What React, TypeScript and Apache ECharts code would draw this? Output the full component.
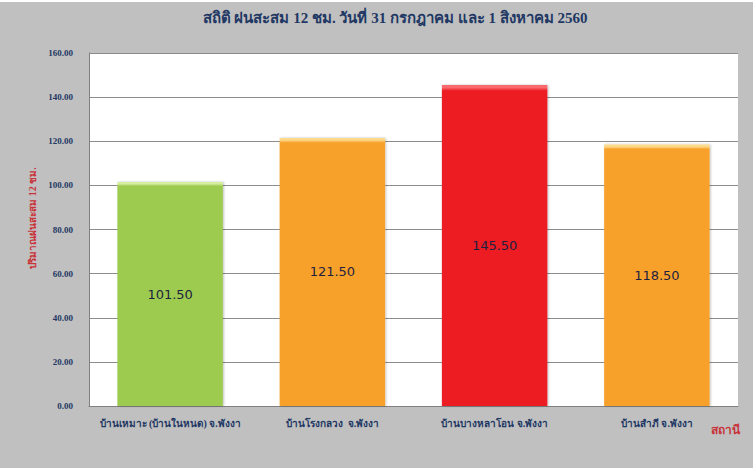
import React, { useEffect, useRef } from "react";
import * as echarts from "echarts";

const titleText = "สถิติ ฝนสะสม 12 ชม. วันที่ 31 กรกฎาคม และ 1 สิงหาคม 2560";
const yAxisTitle = "ปริมาณฝนสะสม 12 ชม.";
const xAxisTitle = "สถานี";
const stations = [
  "บ้านเหมาะ (บ้านในหนด) จ.พังงา",
  "บ้านโรงกลวง  จ.พังงา",
  "บ้านบางหลาโอน จ.พังงา",
  "บ้านสำภี จ.พังงา",
];
const rainfall = [101.5, 121.5, 145.5, 118.5];
const barColors = ["#9dcb4f", "#f8a12b", "#ed1c24", "#f8a12b"];
const barHighlights = ["#d6eea0", "#fdd98a", "#f86a6e", "#fdd98a"];

export default function App() {
  const ref = useRef<HTMLDivElement>(null);
  useEffect(() => {
    document.body.style.margin = "0";
    if (!ref.current) return;
    const chart = echarts.init(ref.current, null, { renderer: "svg" });
    const data = rainfall.map((v, i) => ({
      value: v,
      itemStyle: {
        color: new echarts.graphic.LinearGradient(0, 0, 0, 1, [
          { offset: 0, color: barHighlights[i] },
          { offset: 0.008, color: barHighlights[i] },
          { offset: 0.018, color: barColors[i] },
          { offset: 1, color: barColors[i] },
        ]),
        shadowColor: "rgba(0,0,0,0.25)",
        shadowBlur: 2,
        shadowOffsetX: 1,
      },
    }));
    chart.setOption({
      animation: false,
      backgroundColor: "#ffffff",
      graphic: [
        { type: "rect", shape: { x: 0, y: 2, width: 753, height: 466 }, style: { fill: "#c0c0c0" }, z: -10 },
        {
          type: "text",
          x: 395,
          y: 18,
          style: {
            text: titleText,
            fill: "#1f3864",
            font: "bold 15px 'Liberation Serif', 'Noto Sans', serif",
            align: "center",
            verticalAlign: "middle",
          },
        },
        {
          type: "text",
          x: 32,
          y: 218,
          rotation: Math.PI / 2,
          style: {
            text: yAxisTitle,
            fill: "#c8333a",
            font: "bold 10px 'Liberation Serif', 'Noto Sans', sans-serif",
            align: "center",
            verticalAlign: "middle",
          },
        },
        {
          type: "text",
          x: 725,
          y: 430,
          style: {
            text: xAxisTitle,
            fill: "#c8333a",
            font: "bold 12px 'Liberation Serif', 'Noto Sans', sans-serif",
            align: "center",
            verticalAlign: "middle",
          },
        },
      ],
      grid: { left: 89, right: 15, top: 53, bottom: 62, backgroundColor: "#ffffff", show: true, borderWidth: 0 },
      xAxis: {
        type: "category",
        data: stations,
        axisLine: { lineStyle: { color: "#808080", width: 1 } },
        axisTick: { show: false },
        axisLabel: {
          color: "#1f3864",
          fontSize: 10,
          fontWeight: "bold",
          margin: 12,
          interval: 0,
          fontFamily: "'Liberation Serif', 'Noto Sans', serif",
        },
      },
      yAxis: {
        type: "value",
        min: 0,
        max: 160,
        interval: 20,
        axisLine: { show: true, lineStyle: { color: "#808080", width: 1 } },
        axisTick: { show: false },
        splitLine: { lineStyle: { color: "#8c8c8c", width: 1 } },
        axisLabel: {
          color: "#1f3864",
          fontSize: 9,
          fontWeight: "bold",
          margin: 16,
          fontFamily: "'Liberation Serif', serif",
          formatter: (v: number) => v.toFixed(2),
        },
      },
      series: [
        {
          type: "bar",
          data,
          barCategoryGap: "35%",
          label: {
            show: true,
            position: "inside",
            color: "#1f1f3f",
            fontSize: 13,
            fontFamily: "'DejaVu Sans', Verdana, sans-serif",
            formatter: (p: any) => Number(p.value).toFixed(2),
          },
        },
      ],
    });
    return () => chart.dispose();
  }, []);
  return <div ref={ref} style={{ width: 753, height: 468 }} />;
}
